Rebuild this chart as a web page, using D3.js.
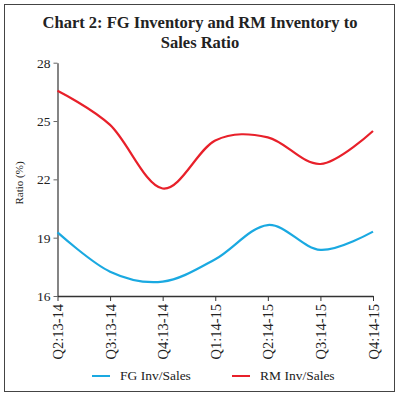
<!DOCTYPE html>
<html>
<head>
<meta charset="utf-8">
<script src="https://cdn.jsdelivr.net/npm/d3@7"></script>
<style>
  body { margin: 0; background: #fff; }
  svg { display: block; font-family: "Liberation Serif", "DejaVu Serif", serif; }
</style>
</head>
<body>
<svg id="chart" width="400" height="397"></svg>
<script>
// quarters on the x axis
const quarters = ['Q2:13-14', 'Q3:13-14', 'Q4:13-14', 'Q1:14-15', 'Q2:14-15', 'Q3:14-15', 'Q4:14-15']
// ratios in per cent
const fgInvSales = [19.27, 17.25, 16.74, 17.89, 19.65, 18.37, 19.31]
const rmInvSales = [26.56, 24.8, 21.53, 24.0, 24.16, 22.79, 24.49]
const yTicks = [16, 19, 22, 25, 28]
const seriesNames = ['FG Inv/Sales', 'RM Inv/Sales']

const series = [
  { name: seriesNames[0], values: fgInvSales, color: '#1aa9e1' },
  { name: seriesNames[1], values: rmInvSales, color: '#e8202a' }
]

const svg = d3.select('#chart')

// frame
svg.append('rect')
  .attr('x', 4.5).attr('y', 4.5)
  .attr('width', 390).attr('height', 387)
  .style('fill', 'none')
  .style('stroke', '#444')
  .style('stroke-width', 1)

// title
const title = svg.append('text')
  .attr('text-anchor', 'middle')
  .style('font-size', '16.5px')
  .style('font-weight', 'bold')
  .style('fill', '#222')
title.append('tspan').attr('x', 200).attr('y', 28).text('Chart 2: FG Inventory and RM Inventory to')
title.append('tspan').attr('x', 200).attr('y', 48).text('Sales Ratio')

const xScale = d3.scalePoint()
  .domain(quarters)
  .range([57.5, 373])

const yScale = d3.scaleLinear()
  .domain([16, 28])
  .range([296, 62.7])

// y axis
const yAxis = svg.append('g')
  .attr('transform', 'translate(57.5,0)')
  .call(d3.axisLeft(yScale).tickValues(yTicks).tickSize(4).tickSizeOuter(0).tickPadding(3))
yAxis.select('.domain').style('stroke', '#666').style('stroke-width', 1.6)
yAxis.selectAll('.tick line').style('stroke', '#666')
yAxis.selectAll('text')
  .style('font-family', '"Liberation Serif", serif')
  .style('font-size', '13.5px')
  .style('fill', '#222')

// x axis
const xAxis = svg.append('g')
  .attr('transform', 'translate(0,296)')
  .call(d3.axisBottom(xScale).tickSize(5).tickSizeOuter(0))
xAxis.select('.domain').style('stroke', '#333').style('stroke-width', 1.3)
xAxis.selectAll('.tick line').style('stroke', '#333')
xAxis.selectAll('text')
  .attr('transform', 'rotate(-90)')
  .attr('x', -8)
  .attr('y', 0)
  .attr('dy', '0.35em')
  .attr('text-anchor', 'end')
  .style('font-family', '"Liberation Serif", serif')
  .style('font-size', '14.5px')
  .style('fill', '#222')

// y axis title
svg.append('text')
  .attr('transform', 'translate(23,183) rotate(-90)')
  .attr('text-anchor', 'middle')
  .style('font-size', '11px')
  .style('fill', '#222')
  .text('Ratio (%)')

// lines
const line = d3.line()
  .x((d, i) => xScale(quarters[i]))
  .y(d => yScale(d))
  .curve(d3.curveCardinal)

svg.selectAll('path.series')
  .data(series)
  .enter()
  .append('path')
  .attr('class', 'series')
  .attr('d', d => line(d.values))
  .style('fill', 'none')
  .style('stroke', d => d.color)
  .style('stroke-width', 2.2)

// legend
const legend = svg.selectAll('g.legend')
  .data(series)
  .enter()
  .append('g')
  .attr('class', 'legend')
  .attr('transform', (d, i) => `translate(${92 + i * 140},376)`)
legend.append('line')
  .attr('x1', 0).attr('x2', 18)
  .style('stroke', d => d.color)
  .style('stroke-width', 2)
legend.append('text')
  .attr('x', 28)
  .attr('dy', '0.33em')
  .style('font-size', '13.5px')
  .style('fill', '#222')
  .text(d => d.name)
</script>
</body>
</html>
